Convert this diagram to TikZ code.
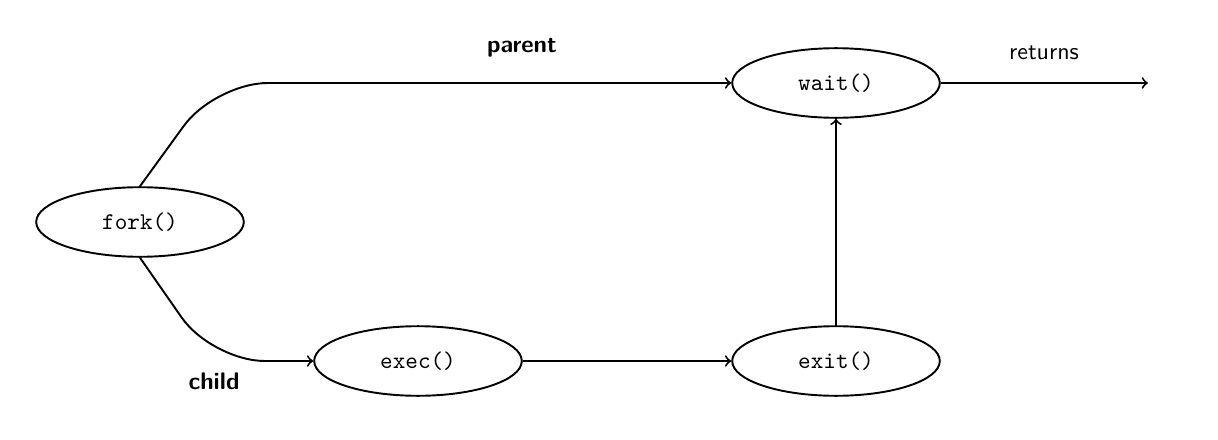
\documentclass[tikz,border=0pt]{standalone}
\usetikzlibrary{shapes.geometric}
\begin{document}
\begin{tikzpicture}[x=0.41667pt,y=-0.41667pt,
  proc/.style={draw,ellipse,line width=0.8pt,minimum width=86.5pt,minimum height=29pt,inner sep=0pt,font=\ttfamily},
  conn/.style={->,line width=0.8pt},
  lbl/.style={font=\sffamily\bfseries},
  plainlbl/.style={font=\sffamily}]
\useasboundingbox (0,0) rectangle (1218,440);
\node[proc] (fork) at (140,222) {fork()};
\node[proc] (exec) at (418,361) {exec()};
\node[proc] (exit) at (836,361) {exit()};
\node[proc] (wait) at (836,83) {wait()};
\coordinate (ret) at (1148,83);
\coordinate (bendtop) at (215,83);
\coordinate (bendbot) at (212,361);
\draw[conn,rounded corners=22pt] (fork.north) -- (bendtop) -- (wait.west);
\draw[conn,rounded corners=22pt] (fork.south) -- (bendbot) -- (exec.west);
\draw[conn] (exec) -- (exit);
\draw[conn] (exit) -- (wait);
\draw[conn] (wait) -- (ret);
\node[lbl] (parentlbl) at (522,48) {parent};
\node[lbl] (childlbl) at (214,381) {child};
\node[plainlbl] (retlbl) at (1044,53) {returns};
\end{tikzpicture}
\end{document}
